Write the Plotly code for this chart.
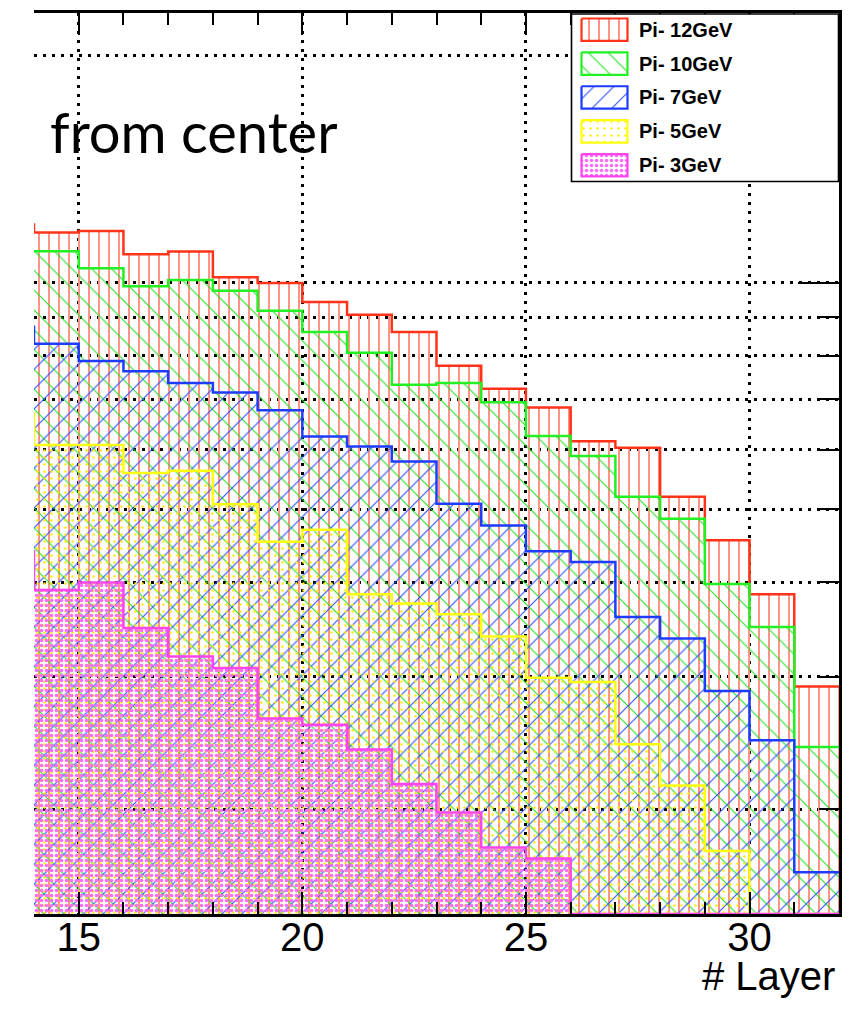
import plotly.graph_objects as go

# ---- data ----
layer_low = list(range(13, 32))          # lower bin edges, bins of width 1
layer_high_edge = 32
pi12 = [11.95, 11.66, 11.71, 10.91, 11.00, 10.17, 9.99, 9.43, 9.07, 8.60,
        7.76, 7.23, 6.83, 6.16, 6.04, 5.20, 4.55, 3.86, 2.91]
pi10 = [11.01, 11.01, 10.45, 9.89, 10.08, 9.76, 9.18, 8.60, 8.07, 7.32,
        7.36, 6.94, 6.26, 5.89, 5.20, 4.86, 3.98, 3.49, 2.42]
pi7 = [8.74, 8.30, 7.87, 7.63, 7.36, 7.15, 6.77, 6.25, 6.06, 5.79,
       5.09, 4.76, 4.40, 4.26, 3.60, 3.37, 2.87, 2.47, 1.65]
pi5 = [6.71, 6.09, 6.09, 5.59, 5.63, 5.08, 4.53, 4.70, 3.86, 3.75,
       3.63, 3.39, 2.99, 2.95, 2.44, 2.15, 1.76, 0, 0]
pi3 = [4.40, 3.91, 4.00, 3.48, 3.19, 3.08, 2.64, 2.59, 2.40, 2.16,
       1.98, 1.78, 1.72, 0, 0, 0, 0, 0, 0]
series_names = ["Pi- 12GeV", "Pi- 10GeV", "Pi- 7GeV", "Pi- 5GeV", "Pi- 3GeV"]
x_ticks = [15, 20, 25, 30]
y_grid_minor = [2, 3, 4, 5, 6, 7, 8, 9, 20]
y_grid_major = [10]

# ---- styles ----
LOG_MIN, LOG_MAX = 0.162, 1.358
YFLOOR = 10 ** LOG_MIN
styles = [
    dict(line="#ff3318", pat=dict(shape="|", fgcolor="#ff9486", size=10, solidity=0.2)),
    dict(line="#22f022", pat=dict(shape="\\", fgcolor="#22dd22", size=14, solidity=0.075)),
    dict(line="#1e3cff", pat=dict(shape="/", fgcolor="#2a4cff", size=14, solidity=0.075)),
    dict(line="#ffff10", pat=dict(shape=".", fgcolor="#ffec00", size=7, solidity=0.09)),
    dict(line="#ff44f0", pat=dict(shape=".", fgcolor="#ff6cff", size=5, solidity=0.42)),
]
all_series = [pi12, pi10, pi7, pi5, pi3]

fig = go.Figure()
xs = layer_low + [layer_high_edge]
for name, vals, st in zip(series_names, all_series, styles):
    ys = [max(v, YFLOOR) for v in vals]
    ys = ys + [ys[-1]]
    pat = dict(st["pat"])
    pat["bgcolor"] = "rgba(0,0,0,0)"
    pat["fgopacity"] = 1
    fig.add_trace(go.Scatter(
        x=xs, y=ys, mode="lines", line=dict(shape="hv", color=st["line"], width=2.5),
        fill="tozeroy", fillcolor="rgba(0,0,0,0)", fillpattern=pat,
        name=name, showlegend=False, xaxis="x", yaxis="y"))

# ---- page-pixel geometry (figure sits at an 8px body margin) ----
OFF = 8
L, R, T, B = 34, 839, 10, 914
FW, FH = 860 - OFF, 1011 - OFF

# ---- manual legend on a pixel-mapped overlay subplot ----
fig.add_trace(go.Scatter(
    x=[571.5, 838.5, 838.5, 571.5, 571.5], y=[11, 11, 179, 179, 11],
    mode="lines", fill="toself", fillcolor="white",
    line=dict(color="black", width=1.6), showlegend=False, hoverinfo="skip",
    xaxis="x2", yaxis="y2"))
for i, (name, st) in enumerate(zip(series_names, styles)):
    top = 15.5 + 34 * i
    bot = top + 22.5
    pat = dict(st["pat"])
    pat["bgcolor"] = "rgba(0,0,0,0)"
    pat["fgopacity"] = 1
    fig.add_trace(go.Scatter(
        x=[581.5, 627.5, 627.5, 581.5, 581.5], y=[top, top, bot, bot, top],
        mode="lines", fill="toself", fillcolor="rgba(0,0,0,0)", fillpattern=pat,
        line=dict(color=st["line"], width=2.2), showlegend=False, hoverinfo="skip",
        xaxis="x2", yaxis="y2"))
    fig.add_annotation(x=637, y=(top + bot) / 2, xref="x2", yref="y2", text="<b>%s</b>" % name,
                       showarrow=False, xanchor="left", yanchor="middle",
                       font=dict(family="Liberation Sans, Arial", size=20, color="black"))

H = B - T
fig.add_annotation(x=(48 - L) / (R - L), y=(B - 129) / H, xref="paper", yref="paper",
                   text="from center", showarrow=False, xanchor="left", yanchor="middle",
                   font=dict(family="Lato", size=56, color="black"))
fig.add_annotation(x=(837 - L) / (R - L), y=(B - 976) / H, xref="paper", yref="paper",
                   text="# Layer", showarrow=False, xanchor="right", yanchor="middle",
                   font=dict(family="Liberation Sans, Arial", size=40, color="black"))

dots = "2.5px,6.5px"
fig.update_layout(
    width=FW, height=FH,
    margin=dict(l=L - OFF, r=FW - (R - OFF), t=T - OFF, b=FH - (B - OFF), pad=0),
    paper_bgcolor="white", plot_bgcolor="rgba(0,0,0,0)",
    xaxis=dict(range=[14, 32], tickmode="array", tickvals=x_ticks,
               ticks="inside", ticklen=22, tickwidth=2, tickcolor="black",
               showline=True, linewidth=2.5, linecolor="black", mirror="ticks",
               showgrid=True, gridcolor="black", gridwidth=2.5, griddash=dots,
               zeroline=False, ticklabelstandoff=-14,
               tickfont=dict(family="Liberation Sans, Arial", size=40, color="black"),
               minor=dict(dtick=1, tick0=14, ticks="inside", ticklen=12, tickwidth=2,
                          tickcolor="black", showgrid=False)),
    yaxis=dict(type="log", range=[LOG_MIN, LOG_MAX], side="right",
               tickmode="array", tickvals=y_grid_major, showticklabels=False,
               ticks="inside", ticklen=41, tickwidth=2, tickcolor="black",
               showline=True, linewidth=2.5, linecolor="black",
               showgrid=True, gridcolor="black", gridwidth=2.5, griddash=dots,
               zeroline=False,
               minor=dict(tickmode="array", tickvals=y_grid_minor, ticks="inside",
                          ticklen=20, tickwidth=2, tickcolor="black",
                          showgrid=True, gridcolor="black", gridwidth=2.5, griddash=dots)),
    xaxis2=dict(domain=[0, 1], range=[L, R], visible=False, anchor="y2", fixedrange=True),
    yaxis2=dict(domain=[0, 1], range=[B, T], visible=False, anchor="x2", fixedrange=True),
)

fig.write_html("out.html")
